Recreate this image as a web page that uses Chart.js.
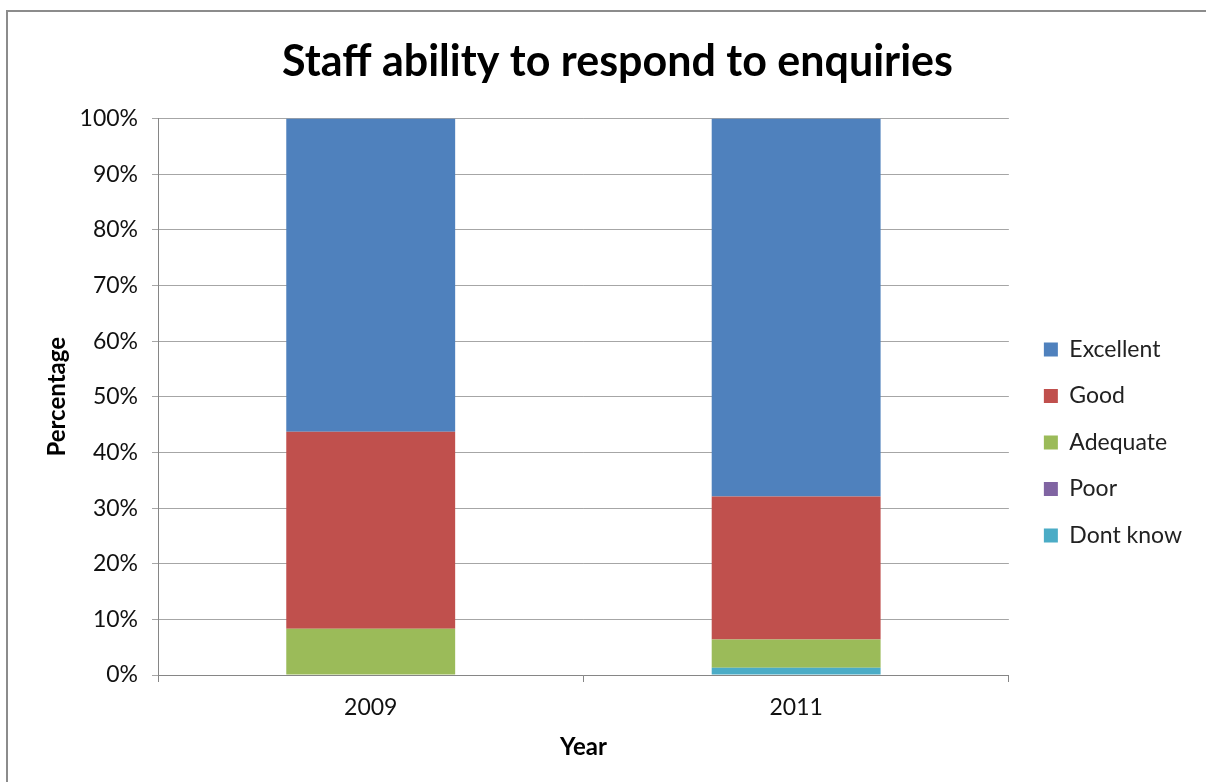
<!DOCTYPE html>
<html>
<head>
<meta charset="utf-8">
<script src="https://cdn.jsdelivr.net/npm/chart.js@4"></script>
<style>
  body { margin: 0; background: #fff; }
  #wrap { position: relative; width: 1206px; height: 782px; overflow: hidden; }
  #frame { position: absolute; left: 6px; top: 10px; width: 1300px; height: 900px;
           border-top: 2px solid #8c8c8c; border-left: 2px solid #8c8c8c; }
  canvas { position: absolute; left: 0; top: 0; }
</style>
</head>
<body>
<div id="wrap"><div id="frame"></div><canvas id="chart" width="1206" height="782"></canvas></div>
<script>
const years = ['2009', '2011'];
const ratings = ['Dont know', 'Poor', 'Adequate', 'Good', 'Excellent'];
const dontKnow = [0, 1.3];
const poor = [0, 0];
const adequate = [8.3, 5.1];
const good = [35.4, 25.7];
const excellent = [56.3, 67.9];
const colours = ['#4BACC6', '#8064A2', '#9BBB59', '#C0504D', '#4F81BD'];

const fontFamily = 'Lato, "Open Sans", sans-serif';
const gridGrey = '#a6a6a6';
const axisGrey = '#868686';

let series = [dontKnow, poor, adequate, good, excellent];

const data = {
  labels: years,
  datasets: ratings.map((name, i) => ({
    label: name,
    data: series[i],
    backgroundColor: colours[i],
    borderWidth: 0,
    categoryPercentage: 1,
    barPercentage: 0.397
  }))
};

const config = {
  type: 'bar',
  data: data,
  options: {
    responsive: false,
    animation: false,
    layout: { padding: { left: 43, right: 14, top: 0, bottom: 20 } },
    plugins: {
      title: {
        display: true,
        text: 'Staff ability to respond to enquiries',
        color: '#000',
        font: { family: fontFamily, size: 43, weight: 'bold' },
        padding: { top: 36, bottom: 31 }
      },
      legend: {
        position: 'right',
        reverse: true,
        title: { display: true, text: '', font: { size: 10 }, padding: { top: 0, bottom: 111 } },
        labels: {
          color: '#222',
          font: { family: fontFamily, size: 23 },
          boxWidth: 14,
          boxHeight: 14,
          padding: 23.5
        }
      },
      tooltip: { enabled: false }
    },
    scales: {
      x: {
        stacked: true,
        grid: { offset: true, drawOnChartArea: false, color: axisGrey, tickLength: 7 },
        border: { color: axisGrey },
        ticks: { color: '#111', font: { family: fontFamily, size: 23 }, padding: 12 },
        title: { display: true, text: 'Year', color: '#000', font: { family: fontFamily, size: 24, weight: 'bold' }, padding: { top: 10, bottom: 0 } },
        afterFit: (s) => { s.height = 87; }
      },
      y: {
        stacked: true,
        min: 0,
        max: 100,
        grid: { color: gridGrey, tickLength: 6 },
        border: { color: axisGrey },
        ticks: { stepSize: 10, color: '#111', font: { family: fontFamily, size: 23 }, padding: 14, callback: (v) => v + '%' },
        title: { display: true, text: 'Percentage', color: '#000', font: { family: fontFamily, size: 24, weight: 'bold' }, padding: { top: 0, bottom: 10 } },
        afterFit: (s) => { s.width = 115; }
      },
      gap: {
        position: 'right',
        display: true,
        grid: { display: false },
        border: { display: false },
        ticks: { display: false },
        afterFit: (s) => { s.width = 11.5; }
      }
    }
  }
};

const myChart = new Chart(document.getElementById('chart'), config);
</script>
</body>
</html>
